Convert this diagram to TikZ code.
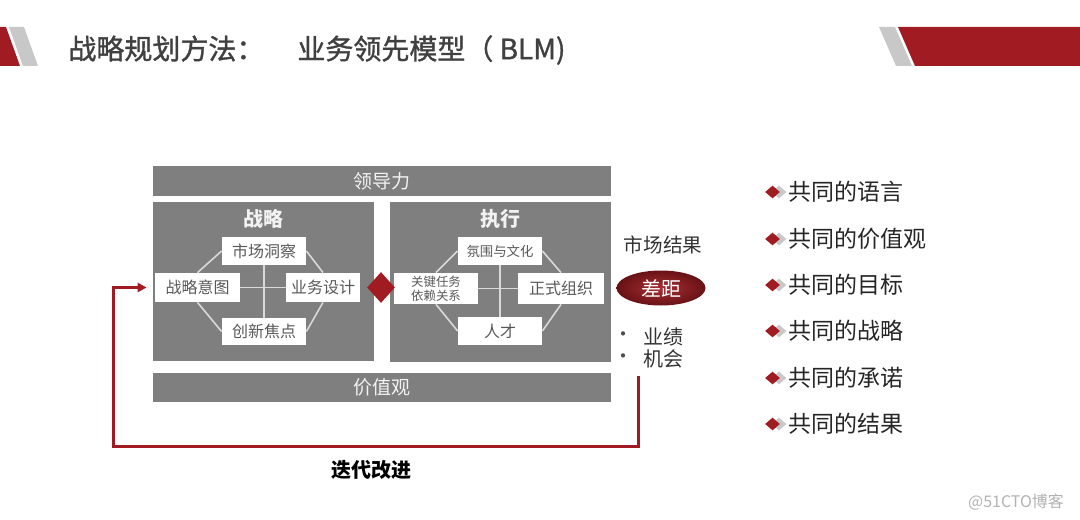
\documentclass[tikz,border=0pt]{standalone}
\usepackage{fontspec}
\setmainfont{Noto Sans CJK SC}
\newfontfamily\titlefont[FakeBold=1.2]{Noto Sans CJK SC}
\usetikzlibrary{shapes.geometric,calc,arrows.meta,positioning}
\definecolor{blmred}{RGB}{160,28,34}
\definecolor{blmgray}{RGB}{127,127,127}
\definecolor{lightline}{RGB}{217,217,217}
\definecolor{titlegray}{RGB}{64,64,64}
\definecolor{decogray}{RGB}{200,200,200}
\newcommand{\drawbullet}[3]{ % pos_y, text, id
  \node[diamond, fill=decogray, inner sep=0pt, minimum width=7.5pt, minimum height=6.5pt] (#3_s) at (779,#1) {};
  \node[diamond, fill=blmred, inner sep=0pt, minimum width=7.5pt, minimum height=6.5pt] (#3_d) at (772.5,#1) {};
  % Label of the list item
  \node[anchor=west, inner sep=0pt, text=black!85, font=\fontsize{11.5pt}{12pt}\selectfont] (#3) at (788,#1) {#2};
}

\begin{document}
\begin{tikzpicture}[x=0.5pt, y=-0.5pt, >=Latex]

    % Styles for bars, panels and cells
    \tikzset{bar/.style={fill=blmgray, text=white!95!black, inner sep=0pt, font=\fontsize{9.5pt}{10pt}\selectfont},
      panel/.style={fill=blmgray, inner sep=0pt, minimum width=110.5pt, minimum height=79.5pt},
      cell/.style={fill=white, text=black!65, inner sep=0pt, minimum width=42pt, minimum height=14pt, font=\fontsize{8pt}{9pt}\selectfont},
      link/.style={draw=lightline, line width=0.8pt},
      head/.style={text=white!95!black, font=\bfseries\fontsize{10pt}{11pt}\selectfont},
      fbline/.style={draw=blmred, line width=1.5pt, shorten >=4pt, -{Triangle[length=4.5pt, width=4.5pt]}}}

    % Define colors for the gap ellipse
    \colorlet{gapin}{blmred!92!white}
    \colorlet{gapout}{blmred!65!black}

    \useasboundingbox (0,0) rectangle (1080,519);

    % Title band decorations
    \fill[blmred] (0,27) -- (6,27) -- (20,66) -- (0,66) -- cycle;
    \fill[decogray] (9,27) -- (24,27) -- (38,66) -- (23,66) -- cycle;
    \fill[decogray] (879,27) -- (895,27) -- (912,66) -- (896,66) -- cycle;
    \fill[blmred] (898,27) -- (1080,27) -- (1080,66) -- (915,66) -- cycle;
    \node[anchor=west, inner sep=0pt, text=titlegray, font=\titlefont\fontsize{14pt}{16pt}\selectfont] (title) at (68,50) {战略规划方法：\hspace{16.5pt}业务领先模型（ BLM)};

    % Leadership and values bars, two panels
    \node[bar, minimum width=229pt, minimum height=15pt] (ldl) at (382,181) {领导力};
    \node[bar, minimum width=229pt, minimum height=14.5pt] (jzg) at (382,387.5) {价值观};
    \node[panel] (zl) at (263.5,281.5) {};
    \node[panel, minimum height=80pt] (zx) at (500.5,282) {};
    \node[head] (zl_t) at (263,219) {战略};
    \node[head] (zx_t) at (500,219) {执行};

    % Strategy cells
    \node[cell] (sc) at (264,251) {市场洞察};
    \node[cell, minimum width=42.5pt, minimum height=14.5pt] (yt) at (197.5,287.5) {战略意图};
    \node[cell, minimum width=37pt, minimum height=14.5pt] (sj) at (323,287.5) {业务设计};
    \node[cell, minimum height=13.5pt] (cx) at (264,331.5) {创新焦点};
    \draw[link] (sc.south) -- (cx.north);
    \draw[link] (yt.east) -- (sj.west);
    \draw[link] (sc.west) -- (yt.north);
    \draw[link] (sc.east) -- (sj.north);
    \draw[link] (yt.south) -- (cx.west);
    \draw[link] (sj.south) -- (cx.east);

    % Execution cells
    \node[cell, font=\fontsize{6.7pt}{7pt}\selectfont] (fw) at (500,251) {氛围与文化};
    \node[cell, minimum height=15.5pt, align=center, font=\fontsize{6.2pt}{6.8pt}\selectfont] (rw) at (436,288.5) {关键任务\\依赖关系};
    \node[cell, minimum width=43pt, minimum height=15.5pt] (zz) at (561,288.5) {正式组织};
    \node[cell] (rc) at (500,331) {人才};
    \draw[link] (fw.south) -- (rc.north);
    \draw[link] (rw.east) -- (zz.west);
    \draw[link] (fw.west) -- (rw.north);
    \draw[link] (fw.east) -- (zz.north);
    \draw[link] (rw.south) -- (rc.west);
    \draw[link] (zz.south) -- (rc.east);

    % Red diamond between the panels
    \node[diamond, fill=blmred, inner sep=0pt, minimum width=14pt, minimum height=15.5pt] (dm) at (381,287.5) {};

    % Market result with gap
    \node[text=black!80, font=\fontsize{9.8pt}{10pt}\selectfont] (scjg) at (663,245) {市场结果};
    \node[ellipse, inner color=gapin, outer color=gapout, inner sep=0pt, minimum width=44.5pt, minimum height=17.5pt, text=white, font=\fontsize{10pt}{11pt}\selectfont] (cj) at (661,288) {差距};
    \node[text=black!70, font=\fontsize{10pt}{11pt}\selectfont] (yj_b) at (623,337) {•};
    \node[anchor=west, inner sep=0pt, text=black!80, font=\fontsize{10pt}{11pt}\selectfont] (yj) at (643,337) {业绩};
    \node[text=black!70, font=\fontsize{10pt}{11pt}\selectfont] (jh_b) at (623,359) {•};
    \node[anchor=west, inner sep=0pt, text=black!80, font=\fontsize{10pt}{11pt}\selectfont] (jh) at (643,359) {机会};

    % Feedback loop back to the strategic intent
    \coordinate (fb) at (638,376);
    \coordinate (fbl) at (113,446);
    \draw[fbline] (fb) |- (fbl) |- (yt.west);
    \node[font=\bfseries\fontsize{10pt}{11pt}\selectfont] (ddgj) at (371,470) {迭代改进};

    % Shared items on the right
    \drawbullet{192}{共同的语言}{b1}
    \drawbullet{239}{共同的价值观}{b2}
    \drawbullet{285}{共同的目标}{b3}
    \drawbullet{331}{共同的战略}{b4}
    \drawbullet{378}{共同的承诺}{b5}
    \drawbullet{424}{共同的结果}{b6}

    \node[anchor=east, text=black!30, font=\fontsize{8pt}{9pt}\selectfont] (wm) at (1071,502) {@51CTO博客};

\end{tikzpicture}
\end{document}
